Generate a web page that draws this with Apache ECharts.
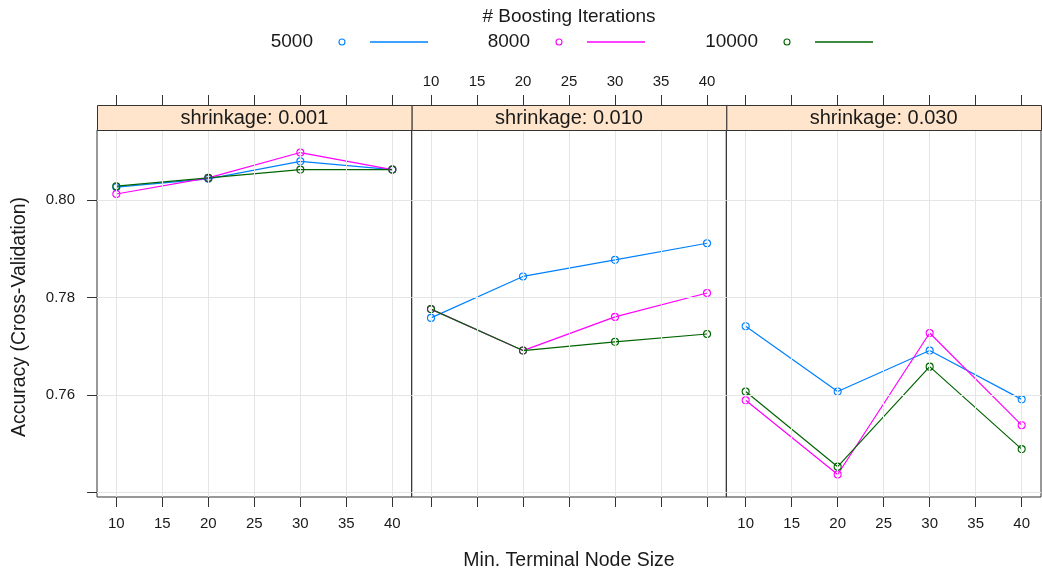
<!DOCTYPE html>
<html>
<head>
<meta charset="utf-8">
<script src="https://cdn.jsdelivr.net/npm/echarts@6/dist/echarts.min.js"></script>
<style>
  html, body { margin: 0; padding: 0; background: #ffffff; }
  #chart { width: 1042px; height: 572px; }
</style>
</head>
<body>
<div id="chart"></div>
<script>
// Grid search results: accuracy by minimum terminal node size,
// one panel per shrinkage value, one line per boosting iteration count.
const nodeSizes = [10, 20, 30, 40];
const shrinkages = ['0.001', '0.010', '0.030'];
const iterations = ['5000', '8000', '10000'];
const xTicks = [10, 15, 20, 25, 30, 35, 40];
const yTicks = [0.74, 0.76, 0.78, 0.80];
const yTickLabels = [0.76, 0.78, 0.80];

// rows: shrinkage 0.001, 0.010, 0.030; columns: node size 10, 20, 30, 40
const acc5000 = [
  [0.8026, 0.8043, 0.8079, 0.8062],
  [0.7758, 0.7843, 0.7877, 0.7911],
  [0.7741, 0.7607, 0.7691, 0.7591]
];
const acc8000 = [
  [0.8012, 0.8045, 0.8097, 0.8062],
  [0.7776, 0.7691, 0.7760, 0.7809],
  [0.7589, 0.7437, 0.7727, 0.7538]
];
const acc10000 = [
  [0.8028, 0.8045, 0.8062, 0.8062],
  [0.7776, 0.7691, 0.7709, 0.7725],
  [0.7607, 0.7453, 0.7658, 0.7489]
];

const accBySeries = [acc5000, acc8000, acc10000];
const colors = ['#0080ff', '#ff00ff', '#006400'];

const FONT = '"Liberation Sans", Arial, sans-serif';
const INK = '#1a1a1a';
const FRAME = '#333333';
const GRIDLINE = '#e5e5e5';

// panel geometry
const panelLeft = 97;
const panelRight = 1041;
const panelWidth = (panelRight - panelLeft) / shrinkages.length;
const panelTop = 130;
const panelBottom = 497;
const stripHeight = 25;

// lattice-style 7% padding around the data range
const allValues = accBySeries.flat(2);
const yLo = Math.min(...allValues), yHi = Math.max(...allValues);
const yPad = (yHi - yLo) * 0.07;
const yMin = yLo - yPad, yMax = yHi + yPad;
const xPad = (nodeSizes[nodeSizes.length - 1] - nodeSizes[0]) * 0.07;
const xMin = nodeSizes[0] - xPad, xMax = nodeSizes[nodeSizes.length - 1] + xPad;

const grids = [], xAxes = [], yAxes = [], series = [], graphics = [];

shrinkages.forEach((s, i) => {
  const left = panelLeft + i * panelWidth;
  grids.push({
    left: left, width: panelWidth, top: panelTop, height: panelBottom - panelTop,
    show: true, borderColor: FRAME, borderWidth: 1, backgroundColor: 'transparent',
    containLabel: false
  });

  // bottom axis: labels on outer panels only
  xAxes.push({
    type: 'value', gridIndex: i, position: 'bottom', min: xMin, max: xMax,
    axisLine: { show: false },
    axisTick: { show: true, inside: false, length: 10, customValues: xTicks,
                lineStyle: { color: FRAME, width: 1 } },
    axisLabel: { show: i !== 1, customValues: xTicks, margin: 19,
                 color: INK, fontSize: 15, fontFamily: FONT },
    splitLine: { show: false }
  });
  // top axis above the strip: labels on the middle panel only
  xAxes.push({
    type: 'value', gridIndex: i, position: 'top', offset: stripHeight,
    min: xMin, max: xMax,
    axisLine: { show: false },
    axisTick: { show: true, inside: false, length: 10, customValues: xTicks,
                lineStyle: { color: FRAME, width: 1 } },
    axisLabel: { show: i === 1, customValues: xTicks, margin: 16,
                 color: INK, fontSize: 15, fontFamily: FONT },
    splitLine: { show: false }
  });

  yAxes.push({
    type: 'value', gridIndex: i, min: yMin, max: yMax,
    axisLine: { show: false },
    axisTick: { show: i === 0, inside: false, length: 10, customValues: yTicks,
                lineStyle: { color: FRAME, width: 1 } },
    axisLabel: { show: i === 0, customValues: yTickLabels, margin: 22,
                 color: INK, fontSize: 15, fontFamily: FONT,
                 formatter: v => v.toFixed(2) },
    splitLine: { show: false }
  });

  // background reference grid
  series.push({
    type: 'line', xAxisIndex: 2 * i, yAxisIndex: i, data: [], z: 1, silent: true,
    markLine: {
      silent: true, symbol: ['none', 'none'], label: { show: false },
      lineStyle: { color: GRIDLINE, width: 1, type: 'solid' },
      emphasis: { disabled: true },
      data: xTicks.map(v => ({ xAxis: v })).concat(yTicks.map(v => ({ yAxis: v })))
    }
  });

  iterations.forEach((it, k) => {
    series.push({
      name: it, type: 'line', xAxisIndex: 2 * i, yAxisIndex: i, z: 3,
      data: nodeSizes.map((n, j) => [n, accBySeries[k][i][j]]),
      symbol: 'circle', symbolSize: 7, showSymbol: true,
      lineStyle: { color: colors[k], width: 1.2 },
      itemStyle: { color: 'rgba(0,0,0,0)', borderColor: colors[k], borderWidth: 1.1 },
      emphasis: { disabled: true },
      animation: false
    });
  });

  // strip with the panel's shrinkage value
  graphics.push({
    type: 'rect', left: left, top: panelTop - stripHeight, z: 10,
    shape: { width: panelWidth, height: stripHeight },
    style: { fill: '#ffe5cc', stroke: FRAME, lineWidth: 1 }
  });
  graphics.push({
    type: 'text', x: left + panelWidth / 2, y: panelTop - stripHeight / 2 + 1, z: 11,
    style: { text: 'shrinkage: ' + s, fill: INK, font: '20px ' + FONT,
             textAlign: 'center', textVerticalAlign: 'middle' }
  });
});

// axis titles
graphics.push({
  type: 'text', x: (panelLeft + panelRight) / 2, y: 561, z: 11,
  style: { text: 'Min. Terminal Node Size', fill: INK, font: '19.5px ' + FONT,
           textAlign: 'center', textVerticalAlign: 'middle' }
});
graphics.push({
  type: 'text', x: 20, y: 317, rotation: Math.PI / 2, z: 11,
  style: { text: 'Accuracy (Cross-Validation)', fill: INK, font: '19.5px ' + FONT,
           textAlign: 'center', textVerticalAlign: 'middle' }
});

// key: title, then label / point / line for each iteration count
graphics.push({
  type: 'text', x: (panelLeft + panelRight) / 2, y: 17, z: 11,
  style: { text: '# Boosting Iterations', fill: INK, font: '19px ' + FONT,
           textAlign: 'center', textVerticalAlign: 'middle' }
});
const keyColumns = [313, 530, 758];
iterations.forEach((it, k) => {
  const cx = keyColumns[k];
  graphics.push({
    type: 'text', x: cx, y: 42, z: 11,
    style: { text: it, fill: INK, font: '19px ' + FONT,
             textAlign: 'right', textVerticalAlign: 'middle' }
  });
  graphics.push({
    type: 'circle', z: 11, shape: { cx: cx + 29, cy: 42, r: 3 },
    style: { fill: 'none', stroke: colors[k], lineWidth: 1.1 }
  });
  graphics.push({
    type: 'line', z: 11, shape: { x1: cx + 57, y1: 42, x2: cx + 115, y2: 42 },
    style: { stroke: colors[k], lineWidth: 1.4 }
  });
});

const chart = echarts.init(document.getElementById('chart'), null, { renderer: 'canvas' });
chart.setOption({
  animation: false,
  backgroundColor: '#ffffff',
  textStyle: { fontFamily: FONT },
  grid: grids,
  xAxis: xAxes,
  yAxis: yAxes,
  series: series,
  graphic: graphics
});
</script>
</body>
</html>
